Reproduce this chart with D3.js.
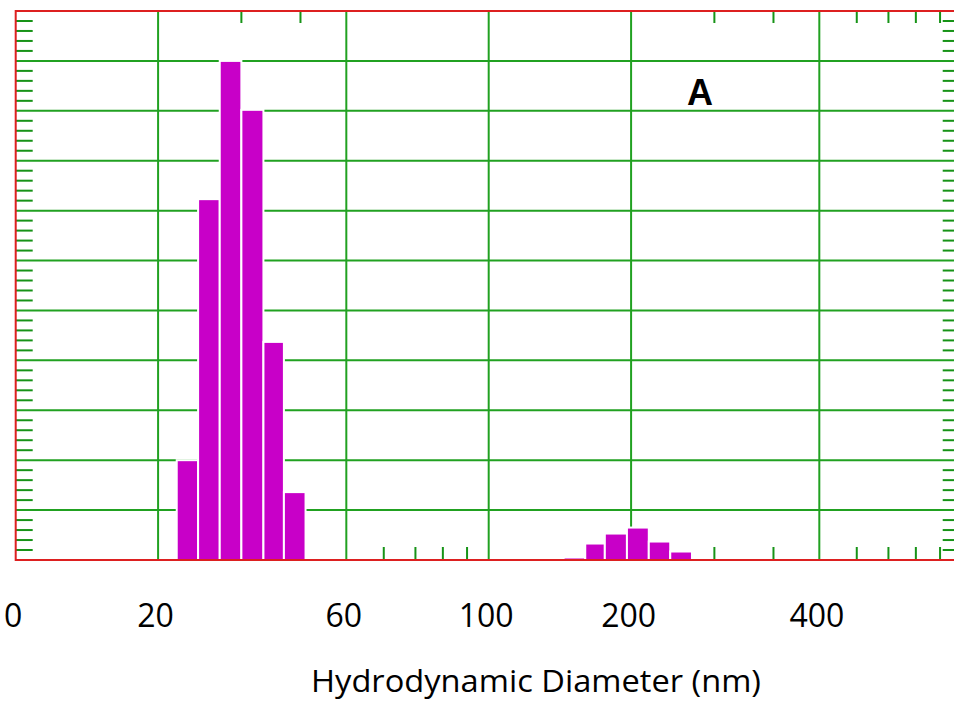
<!DOCTYPE html>
<html>
<head>
<meta charset="utf-8">
<script src="https://cdn.jsdelivr.net/npm/d3@7"></script>
<style>
  body { margin: 0; background: #fff; }
  svg { display: block; }
</style>
</head>
<body>
<svg id="chart" width="954" height="706"></svg>
<script>
// size bins (nm), lower and upper edge, and intensity in grid units
var binLo = [21.9, 24.3, 27.0, 30.0, 33.4, 36.9, 144, 160, 176, 196, 218, 242];
var binHi = [24.3, 27.0, 30.0, 33.4, 36.9, 41.0, 160, 176, 196, 218, 242, 269];
var intensity = [2.0, 7.23, 10.0, 9.02, 4.37, 1.36, 0.05, 0.33, 0.53, 0.65, 0.37, 0.17];

var majorX = [10, 20, 50, 100, 200, 500];
var tickLabels = ["0", "20", "60", "100", "200", "400"];
var minorXBottom = [30, 40, 60, 70, 80, 90, 300, 400, 600, 700, 800, 900];
var minorXTop = [30, 40, 300, 400, 600, 700, 800, 900];
var majorY = [1, 2, 3, 4, 5, 6, 7, 8, 9, 10];

var svg = d3.select("#chart"),
    width = +svg.attr("width"),
    height = +svg.attr("height");

var gridColor = "#21a121",
    tickColor = "#179317",
    barColor = "#c800c8",
    frameColor = "#dd2020";

var x = d3.scaleLog().domain([10, 1000]).range([15.7, 961.7]);
var y = d3.scaleLinear().domain([0, 11]).range([560, 11]);

var minorY = d3.range(0, 55).map(function(i) { return i * 0.2; })
    .filter(function(v, i) { return i % 5 !== 0; });

// grid
var grid = svg.append("g").attr("class", "grid");
grid.selectAll("line.gx")
    .data(majorX.slice(1))
    .enter().append("line")
    .attr("class", "gx")
    .attr("x1", function(d) { return x(d); })
    .attr("x2", function(d) { return x(d); })
    .attr("y1", y(0))
    .attr("y2", y(11))
    .attr("stroke", gridColor)
    .attr("stroke-width", 2);

grid.selectAll("line.gy")
    .data(majorY)
    .enter().append("line")
    .attr("class", "gy")
    .attr("x1", x(10))
    .attr("x2", x(1000))
    .attr("y1", function(d) { return y(d); })
    .attr("y2", function(d) { return y(d); })
    .attr("stroke", gridColor)
    .attr("stroke-width", 2);

// minor ticks on all four sides
var ticks = svg.append("g").attr("class", "minor");
[[y(0), -13, minorXBottom], [y(11), 12, minorXTop]].forEach(function(s) {
    ticks.selectAll(null)
        .data(s[2])
        .enter().append("line")
        .attr("x1", function(d) { return x(d); })
        .attr("x2", function(d) { return x(d); })
        .attr("y1", s[0])
        .attr("y2", s[0] + s[1])
        .attr("stroke", tickColor)
        .attr("stroke-width", 2);
});
[[x(10), 17], [x(1000), -19]].forEach(function(s) {
    ticks.selectAll(null)
        .data(minorY)
        .enter().append("line")
        .attr("x1", s[0])
        .attr("x2", s[0] + s[1])
        .attr("y1", function(d) { return y(d); })
        .attr("y2", function(d) { return y(d); })
        .attr("stroke", tickColor)
        .attr("stroke-width", 2);
});

// bars
svg.append("g").attr("class", "bars")
    .selectAll("rect")
    .data(intensity)
    .enter().append("rect")
    .attr("x", function(d, i) { return x(binLo[i]); })
    .attr("width", function(d, i) { return x(binHi[i]) - x(binLo[i]); })
    .attr("y", function(d) { return y(d); })
    .attr("height", function(d) { return y(0) - y(d); })
    .attr("fill", barColor)
    .attr("stroke", "#fff")
    .attr("stroke-width", 2);

// frame
svg.append("rect")
    .attr("x", x(10))
    .attr("y", y(11))
    .attr("width", x(1000) - x(10))
    .attr("height", y(0) - y(11))
    .attr("fill", "none")
    .attr("stroke", frameColor)
    .attr("stroke-width", 2);

// x axis labels
var xAxis = d3.axisBottom(x)
    .tickValues(majorX)
    .tickFormat(function(d, i) { return tickLabels[i]; })
    .tickSize(0)
    .tickPadding(0);

var gx = svg.append("g")
    .attr("transform", "translate(-3,627)")
    .call(xAxis);
gx.select(".domain").remove();
gx.selectAll("text")
    .attr("dy", 0)
    .attr("y", 0)
    .attr("fill", "#000")
    .style("font-family", "'Open Sans', sans-serif")
    .style("font-size", "32px");

svg.append("text")
    .attr("x", 536)
    .attr("y", 692)
    .attr("text-anchor", "middle")
    .attr("textLength", 450)
    .attr("lengthAdjust", "spacingAndGlyphs")
    .style("font-family", "'Open Sans', sans-serif")
    .style("font-size", "31px")
    .text("Hydrodynamic Diameter (nm)");

svg.append("text")
    .attr("x", 700)
    .attr("y", 105)
    .attr("text-anchor", "middle")
    .style("font-family", "'Liberation Sans', Arial, sans-serif")
    .style("font-weight", "bold")
    .style("font-size", "36px")
    .text("A");
</script>
</body>
</html>
